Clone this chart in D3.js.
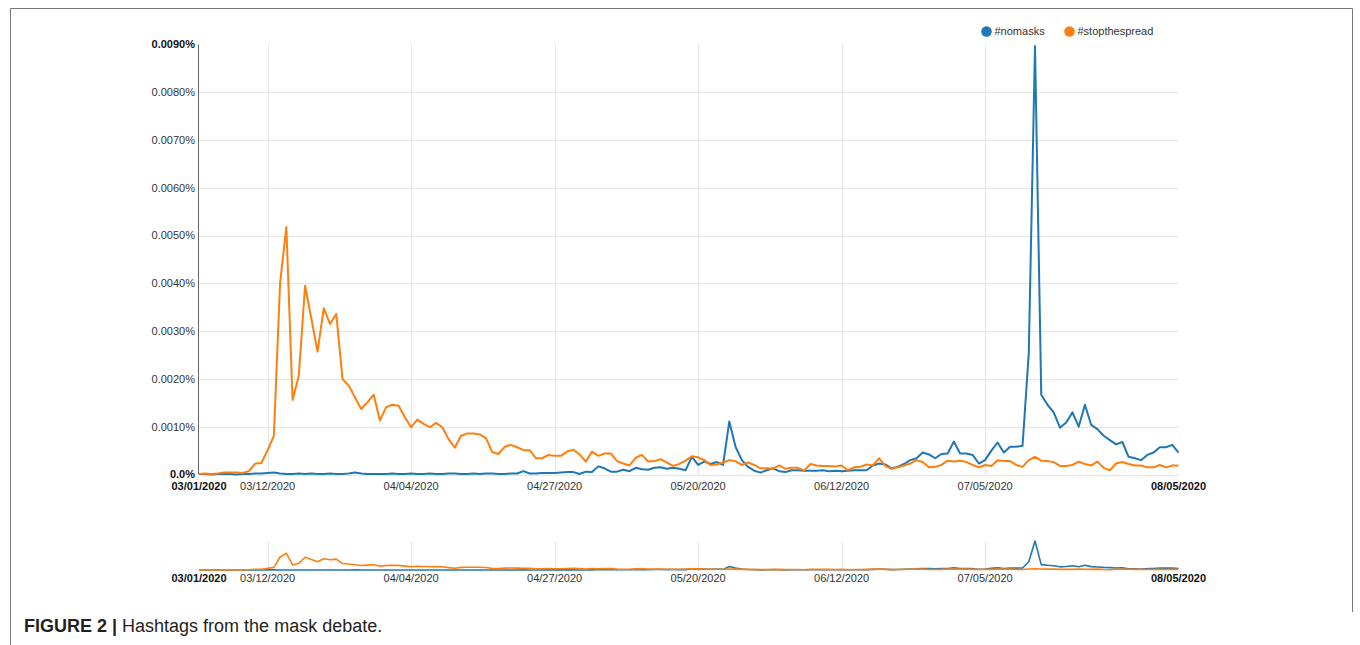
<!DOCTYPE html>
<meta charset="utf-8">
<script src="https://d3js.org/d3.v7.min.js"></script>
<style>
  body { margin: 0; background: #fff; }
  text { font-family: "Liberation Sans", Arial, Helvetica, sans-serif; }
</style>
<div id="chart"></div>
<script>
// daily series, 03/01/2020 .. 08/05/2020
// values are in thousandths of a percent (1 = 0.0010%)
var startDay = "2020-03-01";
var seriesNames = ["#nomasks", "#stopthespread"];

var nomasks = [
  0.01,0.01,0.00,0.01,0.01,0.01,0.00,0.01,0.01,0.02,
  0.02,0.03,0.04,0.02,0.01,0.01,0.02,0.01,0.02,0.01,
  0.01,0.02,0.01,0.01,0.02,0.04,0.02,0.01,0.01,0.01,
  0.01,0.02,0.01,0.01,0.02,0.01,0.01,0.02,0.01,0.01,
  0.02,0.02,0.01,0.01,0.02,0.01,0.02,0.02,0.01,0.01,
  0.02,0.02,0.07,0.02,0.02,0.03,0.03,0.03,0.04,0.05,
  0.05,0.01,0.06,0.05,0.17,0.13,0.06,0.06,0.10,0.07,
  0.14,0.11,0.10,0.14,0.15,0.12,0.14,0.12,0.09,0.37,
  0.20,0.27,0.22,0.26,0.20,1.11,0.58,0.30,0.16,0.08,
  0.04,0.09,0.13,0.07,0.05,0.09,0.09,0.08,0.08,0.08,
  0.09,0.07,0.08,0.07,0.08,0.09,0.09,0.09,0.19,0.23,
  0.21,0.13,0.16,0.22,0.30,0.34,0.46,0.42,0.34,0.43,
  0.44,0.69,0.44,0.44,0.41,0.23,0.30,0.50,0.67,0.46,
  0.58,0.58,0.60,2.54,8.97,1.67,1.46,1.30,0.98,1.09,
  1.30,1.00,1.46,1.04,0.95,0.81,0.72,0.63,0.68,0.37,
  0.34,0.30,0.41,0.46,0.57,0.57,0.62,0.46
];

var stopthespread = [
  0.01,0.02,0.01,0.02,0.04,0.04,0.04,0.03,0.07,0.23,
  0.24,0.51,0.81,4.01,5.18,1.56,2.07,3.95,3.27,2.57,
  3.48,3.15,3.36,2.00,1.86,1.61,1.37,1.51,1.67,1.13,
  1.41,1.46,1.44,1.20,0.99,1.15,1.06,0.99,1.08,0.99,
  0.74,0.56,0.81,0.86,0.86,0.84,0.76,0.47,0.43,0.58,
  0.62,0.57,0.51,0.51,0.34,0.34,0.41,0.39,0.39,0.48,
  0.52,0.42,0.27,0.48,0.39,0.44,0.44,0.28,0.23,0.19,
  0.35,0.41,0.27,0.28,0.32,0.25,0.18,0.22,0.29,0.38,
  0.36,0.30,0.20,0.21,0.25,0.30,0.28,0.20,0.25,0.20,
  0.13,0.13,0.12,0.19,0.12,0.14,0.14,0.08,0.22,0.19,
  0.18,0.18,0.17,0.19,0.09,0.15,0.16,0.21,0.19,0.34,
  0.18,0.12,0.15,0.19,0.23,0.30,0.26,0.15,0.16,0.20,
  0.29,0.27,0.29,0.26,0.20,0.15,0.20,0.18,0.30,0.28,
  0.28,0.20,0.16,0.30,0.37,0.29,0.28,0.26,0.18,0.18,
  0.20,0.27,0.22,0.19,0.27,0.14,0.09,0.23,0.26,0.22,
  0.19,0.19,0.15,0.15,0.20,0.15,0.19,0.19
];

var xTickLabels = ["03/12/2020", "04/04/2020", "04/27/2020", "05/20/2020", "06/12/2020", "07/05/2020"];
var xEndLabels = ["03/01/2020", "08/05/2020"];
var yTickValues = [0, 1, 2, 3, 4, 5, 6, 7, 8, 9];
var yTickLabels = ["0.0%", "0.0010%", "0.0020%", "0.0030%", "0.0040%", "0.0050%", "0.0060%", "0.0070%", "0.0080%", "0.0090%"];

var colors = ["#1f77b4", "#ff7f0e"];

var W = 1360, H = 645;
var left = 199, right = 1178.5;

var parse = d3.timeParse("%m/%d/%Y");
var day0 = d3.timeParse("%Y-%m-%d")(startDay);
var dates = nomasks.map(function(d, i) { return d3.timeDay.offset(day0, i); });
var data = [nomasks, stopthespread].map(function(vals) {
  return vals.map(function(v, i) { return {date: dates[i], value: v}; });
});

var svg = d3.select("#chart").append("svg")
  .attr("width", W).attr("height", H);

// figure frame
svg.append("path")
  .attr("d", "M10.5,645 V8.5 H1352.5 V612")
  .attr("fill", "none").attr("stroke", "#777").attr("stroke-width", 1);

var x = d3.scaleTime()
  .domain([dates[0], dates[dates.length - 1]])
  .range([left, right]);

var y = d3.scaleLinear().domain([0, 9]).range([474.5, 44.5]);

var yNav = d3.scaleLinear()
  .domain([0, d3.max(nomasks.concat(stopthespread))])
  .range([570, 541]);

var tickDates = xTickLabels.map(parse);

// ---- main chart
var main = svg.append("g");

main.selectAll(".hgrid")
  .data(yTickValues.filter(function(v) { return v < 9; }))
  .enter().append("line")
    .attr("x1", left).attr("x2", right)
    .attr("y1", function(d) { return Math.round(y(d)) + 0.5; })
    .attr("y2", function(d) { return Math.round(y(d)) + 0.5; })
    .attr("stroke", "#e6e6e6");

main.selectAll(".vgrid")
  .data(tickDates)
  .enter().append("line")
    .attr("x1", function(d) { return Math.round(x(d)) + 0.5; })
    .attr("x2", function(d) { return Math.round(x(d)) + 0.5; })
    .attr("y1", y(9)).attr("y2", y(0))
    .attr("stroke", "#e6e6e6");

main.append("line")
  .attr("x1", left - 0.5).attr("x2", left - 0.5)
  .attr("y1", y(9)).attr("y2", y(0))
  .attr("stroke", "#666");

main.selectAll(".ylab")
  .data(yTickValues)
  .enter().append("text")
    .attr("x", left - 4)
    .attr("y", function(d) { return y(d); })
    .attr("dy", "0.35em")
    .attr("text-anchor", "end")
    .attr("font-size", 11)
    .attr("font-weight", function(d, i) { return (i == 0 || i == yTickValues.length - 1) ? "bold" : "normal"; })
    .attr("fill", function(d, i) { return (i == 0 || i == yTickValues.length - 1) ? "#111" : "#333"; })
    .text(function(d, i) { return yTickLabels[i]; });

var line = d3.line()
  .x(function(d) { return x(d.date); })
  .y(function(d) { return y(d.value); });

main.selectAll(".series")
  .data(data)
  .enter().append("path")
    .attr("d", line)
    .attr("fill", "none")
    .attr("stroke", function(d, i) { return colors[i]; })
    .attr("stroke-width", 2)
    .attr("stroke-linejoin", "round");

function dateLabels(g, baseline) {
  g.selectAll(".tl")
    .data(tickDates)
    .enter().append("text")
      .attr("x", function(d) { return x(d); })
      .attr("y", baseline)
      .attr("text-anchor", "middle")
      .attr("font-size", 11)
      .attr("fill", "#333")
      .text(function(d, i) { return xTickLabels[i]; });
  g.selectAll(".el")
    .data(xEndLabels)
    .enter().append("text")
      .attr("x", function(d) { return x(parse(d)); })
      .attr("y", baseline)
      .attr("text-anchor", "middle")
      .attr("font-size", 11)
      .attr("font-weight", "bold")
      .attr("fill", "#111")
      .text(function(d) { return d; });
}
dateLabels(main, 490);

// ---- navigator
var nav = svg.append("g");

nav.selectAll(".vgrid")
  .data(tickDates)
  .enter().append("line")
    .attr("x1", function(d) { return Math.round(x(d)) + 0.5; })
    .attr("x2", function(d) { return Math.round(x(d)) + 0.5; })
    .attr("y1", 541).attr("y2", 570)
    .attr("stroke", "#e6e6e6");

var navLine = d3.line()
  .x(function(d) { return x(d.date); })
  .y(function(d) { return yNav(d.value); });

nav.selectAll(".series")
  .data(data)
  .enter().append("path")
    .attr("d", navLine)
    .attr("fill", "none")
    .attr("stroke", function(d, i) { return colors[i]; })
    .attr("stroke-width", 1.6)
    .attr("stroke-linejoin", "round");

dateLabels(nav, 581.5);

// ---- legend
var legend = svg.append("g");
var legendX = [986.5, 1069.5];
seriesNames.forEach(function(name, i) {
  legend.append("circle")
    .attr("cx", legendX[i]).attr("cy", 31.5).attr("r", 5.3)
    .attr("fill", colors[i]);
  legend.append("text")
    .attr("x", legendX[i] + 8).attr("y", 31.5)
    .attr("dy", "0.35em")
    .attr("font-size", 11)
    .attr("fill", "#333")
    .text(name);
});

// ---- caption
var cap = svg.append("text")
  .attr("x", 24).attr("y", 632)
  .attr("font-size", 18)
  .attr("fill", "#231f20");
cap.append("tspan").attr("font-weight", "bold").text("FIGURE 2 |");
cap.append("tspan").text(" Hashtags from the mask debate.");
</script>
